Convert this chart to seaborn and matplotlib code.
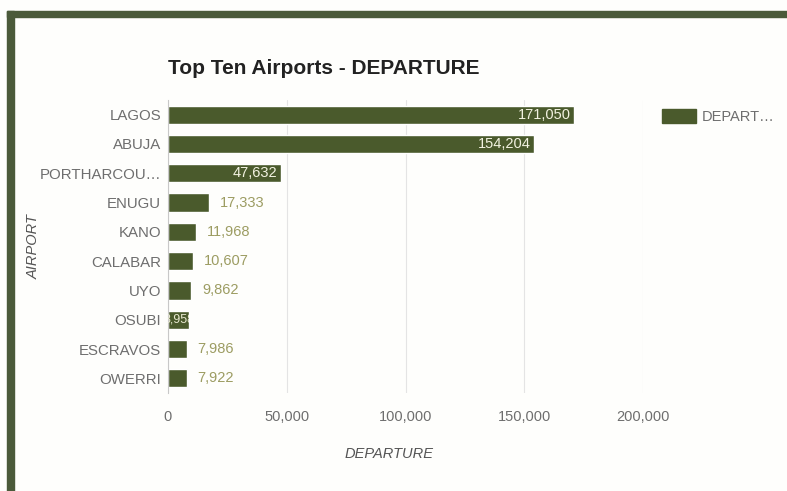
import matplotlib
matplotlib.use("Agg")
import matplotlib.pyplot as plt
from matplotlib.patches import Rectangle, Patch
from matplotlib.transforms import TransformedBbox
import seaborn as sns
import pandas as pd

# data
airports = ["LAGOS", "ABUJA", "PORTHARCOU…", "ENUGU", "KANO",
            "CALABAR", "UYO", "OSUBI", "ESCRAVOS", "OWERRI"]
departures = [171050, 154204, 47632, 17333, 11968,
              10607, 9862, 8958, 7986, 7922]
x_ticks = [0, 50000, 100000, 150000, 200000]

BAR = "#4a5a2c"
FRAME = "#4b5a3a"
GREY = "#6e6e6e"
VAL = "#9c9c62"

sns.set_theme(style="white")
plt.rcParams["font.family"] = ["Liberation Sans", "DejaVu Sans"]

df = pd.DataFrame({"AIRPORT": airports, "DEPARTURE": departures})

fig = plt.figure(figsize=(7.87, 4.91), dpi=100)
fig.patch.set_facecolor("#fefefc")
ax = fig.add_axes([168 / 787, 1 - 393 / 491, 475 / 787, 293 / 491])

sns.barplot(data=df, x="DEPARTURE", y="AIRPORT", color=BAR, width=0.62,
            saturation=1, ax=ax, orient="h")
ax.set_facecolor("none")
ax.set_xlim(0, 200000)
ax.set_xticks(x_ticks)
ax.set_xticklabels([f"{t:,}" for t in x_ticks], color=GREY, fontsize=10.5)
ax.tick_params(axis="x", pad=12, length=0)
ax.tick_params(axis="y", pad=5, length=0, labelsize=10.8, labelcolor=GREY)
ax.xaxis.grid(True, color="#e4e4e4", linewidth=0.8)
for s in ["top", "right", "bottom"]:
    ax.spines[s].set_visible(False)
ax.spines["left"].set_color("#c8c8c8")
ax.spines["left"].set_linewidth(0.8)

ax.set_xlabel("DEPARTURE", style="italic", color="#555555", fontsize=10.5)
ax.set_ylabel("AIRPORT", style="italic", color="#555555", fontsize=10.5)
ax.xaxis.set_label_coords(0.465, -54 / 293)
ax.yaxis.set_label_coords(-127 / 475, 0.5)

# value labels
for i, (bar, v) in enumerate(zip(ax.patches, departures)):
    y = bar.get_y() + bar.get_height() / 2
    txt = f"{v:,}"
    if v > 40000:
        ax.text(v - 1500, y, txt, ha="right", va="center", color="#f2f2e0", fontsize=10.5)
    elif airports[i] == "OSUBI":
        # label does not fit: it is cut off by the bar, as in the original
        t = ax.text(v / 2, y, txt, ha="center", va="center", color="#e8e8d0", fontsize=9)
        t.set_clip_box(TransformedBbox(bar.get_bbox(), ax.transData))
        t.set_clip_path(None)
        t.set_clip_on(True)
    else:
        ax.text(v + 4500, y, txt, ha="left", va="center", color=VAL, fontsize=10.5)

ax.set_title("Top Ten Airports - DEPARTURE", loc="left", fontsize=15, fontweight="bold",
             color="#222222", pad=19, x=0.0)

fig.legend(handles=[Patch(color=BAR)], labels=["DEPART…"], loc="upper left",
           bbox_to_anchor=(649 / 787, 1 - 96 / 491), frameon=False, fontsize=10.5,
           handlelength=2.3, handleheight=1.1, labelcolor=GREY, handletextpad=0.4)

# outer frame (top and left strips)
fig.patches.append(Rectangle((7 / 787, 1 - 17 / 491), 1, 6 / 491, transform=fig.transFigure,
                             color=FRAME, zorder=10))
fig.patches.append(Rectangle((7 / 787, 0), 7 / 787, 1 - 11 / 491, transform=fig.transFigure,
                             color=FRAME, zorder=10))

fig.savefig("out.png", dpi=100, facecolor=fig.get_facecolor())
